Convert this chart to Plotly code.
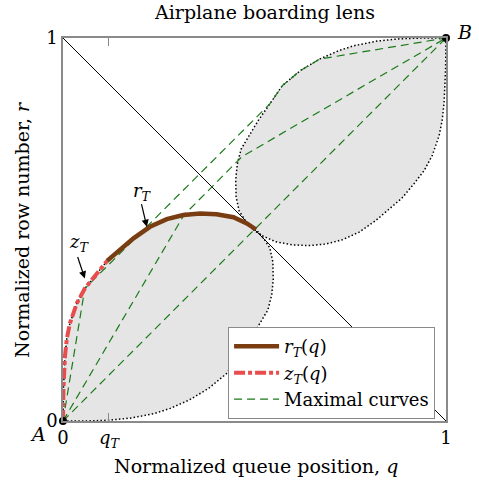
import plotly.graph_objects as go

# ---- data (normalized queue position q, normalized row number r) ----
# z_T curve (red dash-dot), from A up to q_T
zt_q = [0.0, 0.001, 0.005, 0.010, 0.018, 0.036, 0.057, 0.084, 0.115]
zt_r = [0.0, 0.080, 0.168, 0.215, 0.255, 0.307, 0.346, 0.381, 0.418]
# r_T curve (brown), from q_T to the anti-diagonal
rt_q = [0.115, 0.149, 0.184, 0.227, 0.271, 0.314, 0.358, 0.401, 0.445, 0.480, 0.504]
rt_r = [0.418, 0.446, 0.477, 0.507, 0.527, 0.538, 0.542, 0.540, 0.532, 0.516, 0.500]
# lower lens outer (dotted) boundary, from the centre back to A
low_q = [0.504, 0.525, 0.540, 0.548, 0.549, 0.545, 0.535, 0.514, 0.490, 0.460,
         0.427, 0.380, 0.330, 0.280, 0.240, 0.180, 0.120, 0.060, 0.0]
low_r = [0.500, 0.475, 0.452, 0.415, 0.370, 0.330, 0.290, 0.255, 0.215, 0.172,
         0.124, 0.085, 0.055, 0.033, 0.020, 0.008, 0.002, 0.000, 0.0]
# upper lens boundary (closed), from the centre round to B and back
up_q = [0.496, 0.520, 0.555, 0.599, 0.642, 0.686, 0.729, 0.773, 0.816, 0.851, 0.885,
        0.916, 0.943, 0.964, 0.982, 0.990, 0.995, 0.999, 1.000,
        0.940, 0.880, 0.820, 0.760, 0.720, 0.670, 0.620, 0.573, 0.540,
        0.510, 0.486, 0.465, 0.455, 0.451, 0.452, 0.460, 0.475, 0.496]
up_r = [0.500, 0.484, 0.468, 0.460, 0.458, 0.462, 0.473, 0.493, 0.523, 0.554, 0.582,
        0.619, 0.654, 0.693, 0.745, 0.785, 0.832, 0.920, 1.000,
        1.000, 0.998, 0.992, 0.980, 0.967, 0.945, 0.915, 0.876, 0.828,
        0.785, 0.745, 0.710, 0.670, 0.630, 0.585, 0.548, 0.525, 0.500]
# maximal curves (green dashed)
max1_q = [0.0, 0.057, 0.540, 0.573, 0.620, 0.670, 1.0]
max1_r = [0.0, 0.346, 0.828, 0.876, 0.915, 0.945, 1.0]
max2_q = [0.0, 0.316, 0.467, 1.0]
max2_r = [0.0, 0.538, 0.690, 1.0]
max3_q = [0.0, 1.0]
max3_r = [0.0, 1.0]
# anti-diagonal
diag_q = [0.0, 1.0]
diag_r = [1.0, 0.0]
# end points
pts_q = [0.0, 1.0]
pts_r = [0.0, 1.0]
q_T = 0.12

x_ticks = [0.0, q_T, 1.0]
x_ticktext = ["0", "<i>q<sub>T</sub></i>", "1"]
y_ticks = [0.0, 1.0]
y_ticktext = ["0", "1"]

FONT = "DejaVu Serif"
FS = 19
GRAY = "#8a8a8a"
FILL = "#e5e5e5"
BROWN = "#7a3d12"
RED = "#e84c4c"
GREEN = "#1a7a1a"

fig = go.Figure()

lower_q = zt_q + rt_q[1:] + low_q[1:]
lower_r = zt_r + rt_r[1:] + low_r[1:]

# lens fills
for qq, rr in [(lower_q, lower_r), (up_q, up_r)]:
    fig.add_trace(go.Scatter(x=qq, y=rr, mode="lines", fill="toself",
                             fillcolor=FILL, line=dict(width=0),
                             showlegend=False, hoverinfo="skip"))
# dotted outlines
for qq, rr in [(lower_q, lower_r), (up_q, up_r)]:
    fig.add_trace(go.Scatter(x=qq, y=rr, mode="lines",
                             line=dict(color="black", width=1.5, dash="1.5px,2.2px"),
                             showlegend=False, hoverinfo="skip"))
# anti-diagonal
fig.add_trace(go.Scatter(x=diag_q, y=diag_r, mode="lines",
                         line=dict(color="black", width=1),
                         showlegend=False, hoverinfo="skip"))

# maximal curves (one trace, separated by None)
mq = max1_q + [None] + max2_q + [None] + max3_q
mr = max1_r + [None] + max2_r + [None] + max3_r
fig.add_trace(go.Scatter(x=mq, y=mr, mode="lines", name="Maximal curves",
                         legendrank=3,
                         line=dict(color=GREEN, width=1.2, dash="8px,5px")))

# r_T and z_T
fig.add_trace(go.Scatter(x=rt_q, y=rt_r, mode="lines",
                         name="<i>r<sub>T</sub></i>(<i>q</i>)", legendrank=1,
                         line=dict(color=BROWN, width=4.5)))
fig.add_trace(go.Scatter(x=zt_q, y=zt_r, mode="lines",
                         name="<i>z<sub>T</sub></i>(<i>q</i>)", legendrank=2,
                         line=dict(color=RED, width=4, dash="11px,3px,4px,3px")))

# end points
fig.add_trace(go.Scatter(x=pts_q, y=pts_r, mode="markers", cliponaxis=False,
                         marker=dict(color="black", size=8),
                         showlegend=False, hoverinfo="skip"))

font = dict(family=FONT, size=FS, color="black")
lfont = dict(family=FONT, size=18, color="black")
ann = []
ann.append(dict(text="Airplane boarding lens", xref="paper", yref="paper",
                x=0.525, y=1.068, xanchor="center", yanchor="middle",
                showarrow=False, font=font))
ann.append(dict(text="Normalized queue position, <i>q</i>", xref="paper", yref="paper",
                x=0.504, y=-0.118, xanchor="center", yanchor="middle",
                showarrow=False, font=font))
ann.append(dict(text="Normalized row number, <i>r</i>", xref="paper", yref="paper",
                x=-0.107, y=0.499, xanchor="center", yanchor="middle",
                showarrow=False, textangle=-90, font=font))
ann.append(dict(text="<i>A</i>", x=0, y=0, xref="x", yref="y", showarrow=False,
                xanchor="center", yanchor="middle",
                xshift=-25, yshift=-13, font=font))
ann.append(dict(text="<i>B</i>", x=1, y=1, xref="x", yref="y", showarrow=False,
                xanchor="center", yanchor="middle",
                xshift=18, yshift=6, font=font))
# curve labels with arrows
ann.append(dict(text="<i>r<sub>T</sub></i>", x=0.207, y=0.598, xref="x", yref="y",
                xanchor="center", yanchor="middle", showarrow=False, font=lfont))
ann.append(dict(text="", x=0.219, y=0.507, ax=0.204, ay=0.570, xref="x", yref="y",
                axref="x", ayref="y", showarrow=True, arrowhead=2, arrowsize=1.2,
                arrowwidth=1.2, arrowcolor="black"))
ann.append(dict(text="<i>z<sub>T</sub></i>", x=0.042, y=0.466, xref="x", yref="y",
                xanchor="center", yanchor="middle", showarrow=False, font=lfont))
ann.append(dict(text="", x=0.057, y=0.372, ax=0.037, ay=0.432, xref="x", yref="y",
                axref="x", ayref="y", showarrow=True, arrowhead=2, arrowsize=1.2,
                arrowwidth=1.2, arrowcolor="black"))

axis_common = dict(range=[0, 1], showgrid=False, zeroline=False, showline=True,
                   linecolor=GRAY, linewidth=1.5, ticks="inside", ticklen=8,
                   tickcolor=GRAY, tickwidth=1.2,
                   tickfont=dict(family=FONT, size=18, color="black"))

fig.update_layout(
    width=479, height=481,
    margin=dict(l=63, r=33, t=38, b=60),
    paper_bgcolor="white", plot_bgcolor="white",
    xaxis=dict(**axis_common, tickvals=x_ticks, ticktext=x_ticktext, mirror="ticks"),
    yaxis=dict(**axis_common, tickvals=y_ticks, ticktext=y_ticktext, mirror="ticks"),
    annotations=ann,
    showlegend=True,
    legend=dict(x=0.431, y=0.245, xanchor="left", yanchor="top",
                bgcolor="white", bordercolor=GRAY, borderwidth=1,
                font=lfont, itemwidth=45, tracegroupgap=0),
)

fig.write_html("out.html")
